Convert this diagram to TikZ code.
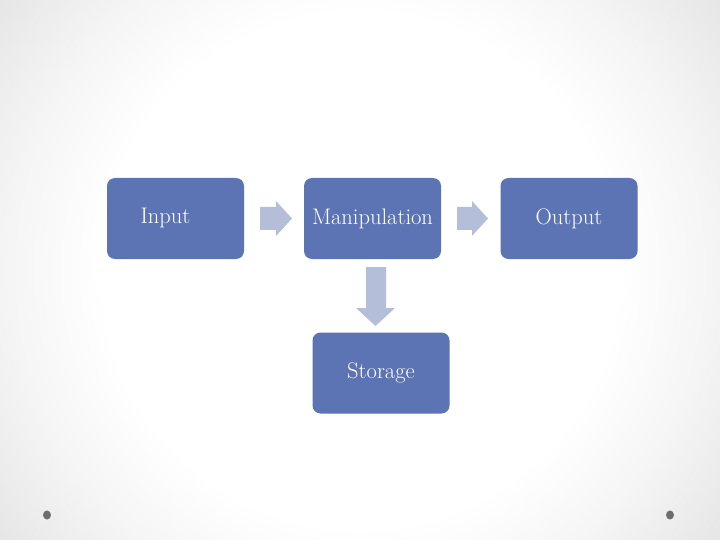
\documentclass[tikz,border=0pt]{standalone}
\usepackage{fontspec}
\usetikzlibrary{calc}
\definecolor{boxblue}{HTML}{5C74B3}
\definecolor{arrowc}{HTML}{B4BED9}
\definecolor{bgone}{HTML}{F5F5F5}
\definecolor{bgmid}{HTML}{E3E3E3}
\definecolor{bgedge}{HTML}{D5D5D5}
\definecolor{dotc}{HTML}{6E6E6E}
\pgfdeclareradialshading{bgshade}{\pgfpoint{0bp}{0bp}}{color(0bp)=(white); color(14bp)=(white); color(19bp)=(bgone); color(25.5bp)=(bgmid); color(32bp)=(bgedge); color(50bp)=(bgedge)}
\tikzset{
  box/.style={fill=boxblue, rounded corners=8pt, minimum width=137pt, minimum height=81pt, inner sep=0pt, text=white, font=\fontsize{22.5}{26}\selectfont},
  blockarrow/.style={fill=arrowc, draw=none},
  dot/.style={fill=dotc}
}
\begin{document}
\begin{tikzpicture}[x=1pt,y=-1pt]
\useasboundingbox (0,0) rectangle (720,540);
\begin{scope}
\clip (0,0) rectangle (720,540);
\shade[shading=bgshade] (-100,-190) rectangle (820,730);
\end{scope}
\node[box] (in) at (175.5,218.5) {Input\hspace*{20pt}};
\node[box] (man) at (372.5,218.5) {Manipulation};
\node[box] (out) at (569,218.5) {Output};
\node[box] (sto) at (381,373) {Storage};
% block arrows
\fill[blockarrow] (260,207) -- (276,207) -- (276,201) -- (292,218.5) -- (276,236) -- (276,230) -- (260,230) -- cycle;
\fill[blockarrow] (457,207) -- (472,207) -- (472,201) -- (488,218.5) -- (472,236) -- (472,230) -- (457,230) -- cycle;
\fill[blockarrow] (366,267) -- (386,267) -- (386,308) -- (395,308) -- (375.5,326) -- (356,308) -- (366,308) -- cycle;
% corner dots
\fill[dot] (47,515) ellipse (4 and 4.5);
\fill[dot] (670,515) ellipse (4 and 4.5);
\end{tikzpicture}
\end{document}
